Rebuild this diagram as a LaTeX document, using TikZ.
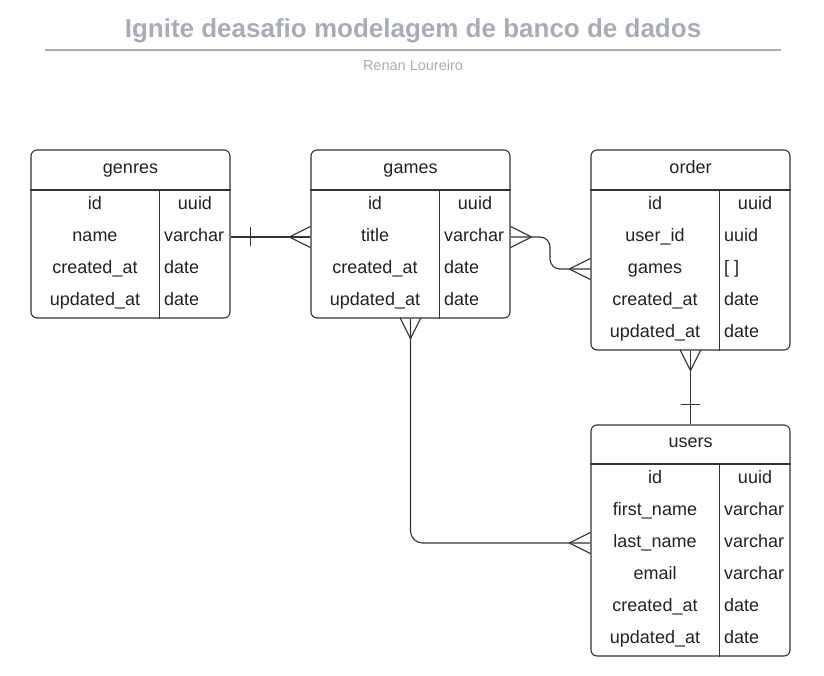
\documentclass[tikz,border=0pt]{standalone}
\usepackage{fontspec}
\setmainfont{Liberation Sans}
\usepackage{xcolor}
\usetikzlibrary{positioning}

\definecolor{ink}{HTML}{333333}
\definecolor{txt}{HTML}{222222}
\definecolor{titlegrey}{HTML}{A7ACB6}

\tikzset{
    tbl/.style={draw=ink, line width=1.1pt, rounded corners=6pt},
    fld/.style={text=txt, inner sep=0pt, text height=12.5pt, text depth=3.5pt,
        font=\fontsize{18}{20}\selectfont},
    typ/.style={fld, anchor=west},
    rel/.style={draw=ink, line width=1.1pt},
    crow/.pic={\draw[rel] (0,0) -- (21,-10.5) (0,0) -- (21,10.5);},
    onebar/.pic={\draw[rel] (0,-9.5) -- (0,9.5);},
}

\begin{document}
\begin{tikzpicture}[x=1pt, y=-1pt]
    \useasboundingbox (0,0) rectangle (824,676);

    % title
    \node[text=titlegrey, font=\fontsize{26}{30}\selectfont\bfseries] (title) at (413,31) {Ignite deasafio modelagem de banco de dados};
    \draw[titlegrey, line width=2pt] (45,50) -- (781,50);
    \node[text=titlegrey, font=\fontsize{14.5}{17}\selectfont] (author) at (413,65) {Renan Loureiro};

    % genres
    \node[tbl, minimum width=199, minimum height=168] (genres) at (130.5,234) {};
    \draw[rel] (genres.west |- 0,190) -- (genres.east |- 0,190);
    \draw[rel] (159.5,190) -- (159.5,0 |- genres.south);
    \node[fld] (genres-h) at (130.5,169) {genres};
    \node[fld] (genres-id) at (95,205) {id};
    \node[fld] (genres-name) at (95,237) {name};
    \node[fld] (genres-created) at (95,269) {created\_at};
    \node[fld] (genres-updated) at (95,301) {updated\_at};
    \node[fld] at (195,205) {uuid};
    \node[typ] at (164,237) {varchar};
    \node[typ] at (164,269) {date};
    \node[typ] at (164,301) {date};

    % games
    \node[tbl, minimum width=199, minimum height=168] (games) at (410.5,234) {};
    \draw[rel] (games.west |- 0,190) -- (games.east |- 0,190);
    \draw[rel] (439.5,190) -- (439.5,0 |- games.south);
    \node[fld] (games-h) at (410.5,169) {games};
    \node[fld] (games-id) at (375,205) {id};
    \node[fld] (games-title) at (375,237) {title};
    \node[fld] (games-created) at (375,269) {created\_at};
    \node[fld] (games-updated) at (375,301) {updated\_at};
    \node[fld] at (475,205) {uuid};
    \node[typ] at (444,237) {varchar};
    \node[typ] at (444,269) {date};
    \node[typ] at (444,301) {date};

    % order
    \node[tbl, minimum width=199, minimum height=200] (order) at (690.5,250) {};
    \draw[rel] (order.west |- 0,190) -- (order.east |- 0,190);
    \draw[rel] (719.5,190) -- (719.5,0 |- order.south);
    \node[fld] (order-h) at (690.5,169) {order};
    \node[fld] (order-id) at (655,205) {id};
    \node[fld] (order-user) at (655,237) {user\_id};
    \node[fld] (order-games) at (655,269) {games};
    \node[fld] (order-created) at (655,301) {created\_at};
    \node[fld] (order-updated) at (655,333) {updated\_at};
    \node[fld] at (755,205) {uuid};
    \node[typ] at (724,237) {uuid};
    \node[typ] at (724,269) {[ ]};
    \node[typ] at (724,301) {date};
    \node[typ] at (724,333) {date};

    % users
    \node[tbl, minimum width=199, minimum height=231] (users) at (690.5,540.5) {};
    \draw[rel] (users.west |- 0,464) -- (users.east |- 0,464);
    \draw[rel] (719.5,464) -- (719.5,0 |- users.south);
    \node[fld] (users-h) at (690.5,443) {users};
    \node[fld] (users-id) at (655,479) {id};
    \node[fld] (users-first) at (655,511) {first\_name};
    \node[fld] (users-last) at (655,543) {last\_name};
    \node[fld] (users-email) at (655,575) {email};
    \node[fld] (users-created) at (655,607) {created\_at};
    \node[fld] (users-updated) at (655,639) {updated\_at};
    \node[fld] at (755,479) {uuid};
    \node[typ] at (724,511) {varchar};
    \node[typ] at (724,543) {varchar};
    \node[typ] at (724,575) {varchar};
    \node[typ] at (724,607) {date};
    \node[typ] at (724,639) {date};

    % relations
    \coordinate (bend) at (550,250);
    \draw[rel] (genres.east |- genres-name) -- (games.west |- games-title);
    \draw[rel, rounded corners=10pt] (games.east |- games-title) -| (bend |- order-games) -- (order.west |- order-games);
    \draw[rel] (order.south) -- (users.north);
    \draw[rel, rounded corners=12pt] (games.south) |- (users.west |- users-last);

    \pic at ([xshift=20pt]genres.east |- genres-name) {onebar};
    \pic at ([xshift=-21pt]games.west |- games-title) {crow};
    \pic[rotate=180] at ([xshift=21pt]games.east |- games-title) {crow};
    \pic at ([xshift=-21pt]order.west |- order-games) {crow};
    \pic[rotate=90] at ([yshift=-20pt]order.south) {crow};
    \pic[rotate=90] at ([yshift=20pt]users.north) {onebar};
    \pic[rotate=90] at ([yshift=-20pt]games.south) {crow};
    \pic at ([xshift=-21pt]users.west |- users-last) {crow};

\end{tikzpicture}
\end{document}
